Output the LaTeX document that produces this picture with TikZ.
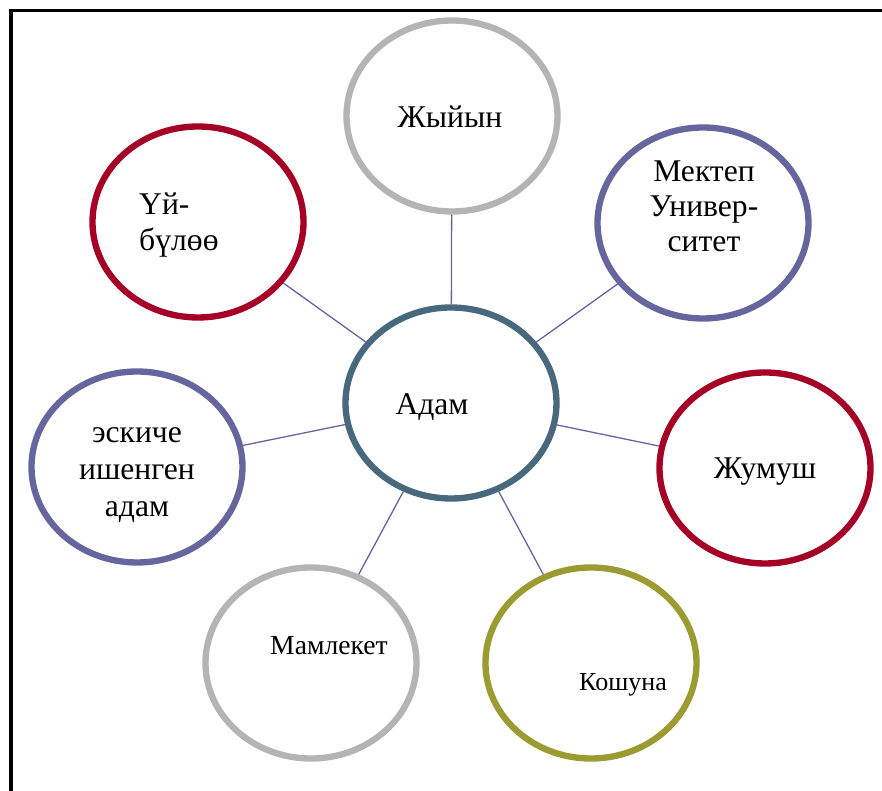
\documentclass[tikz,border=0pt]{standalone}
\usepackage{fontspec}
\setmainfont{Liberation Serif}
\usetikzlibrary{shapes.geometric, positioning}

\definecolor{bubred}{RGB}{165,0,38}
\definecolor{bubpurple}{RGB}{102,102,158}
\definecolor{bubgray}{RGB}{180,180,180}
\definecolor{bubolive}{RGB}{155,155,50}
\definecolor{bubslate}{RGB}{72,104,126}
\definecolor{linkblue}{RGB}{100,100,160}

\begin{document}
\begin{tikzpicture}[
    bubble/.style={ellipse, draw=#1, line width=5.4pt, minimum width=6.33cm, minimum height=5.73cm, inner sep=0pt},
    link/.style={draw=linkblue, line width=1.1pt},
    word/.style={font=\fontsize{27}{30}\selectfont, inner sep=0pt, align=center}
]
            \useasboundingbox (0,0) rectangle (26.46,23.73);
            % frame
            \draw[line width=2.6pt] (0.33,0) -- (0.33,23.415) -- (26.46,23.415);

            % bubbles
            \node[bubble=bubslate] (adam) at (13.53,11.64) {};
            \node[bubble=bubgray] (zhyiyn) at (13.56,20.25) {};
            \node[bubble=bubpurple] (mektep) at (21.09,17.04) {};
            \node[bubble=bubred] (uybulo) at (5.94,17.07) {};
            \node[bubble=bubpurple] (eskiche) at (4.11,9.72) {};
            \node[bubble=bubred] (zhumush) at (22.95,9.69) {};
            \node[bubble=bubgray] (mamleket) at (9.33,3.84) {};
            \node[bubble=bubolive] (koshuna) at (17.73,3.84) {};

            % labels
            \node[word] (adam-t) at (12.96,11.52) {Адам};
            \node[word] (zhyiyn-t) at (13.50,20.22) {Жыйын};
            \node[word] (mektep-t) at (21.12,17.55) {Мектеп\\Универ-\\ситет};
            \node[word, align=left, anchor=west] (uybulo-t) at (4.17,16.98) {Үй-\\бүлөө};
            \node[word, font=\fontsize{27}{31.5}\selectfont] (eskiche-t) at (4.11,9.48) {эскиче\\ишенген\\адам};
            \node[word] (zhumush-t) at (22.95,9.57) {Жумуш};
            \node[word, font=\fontsize{23.6}{28}\selectfont] (mamleket-t) at (9.87,4.35) {Мамлекет};
            \node[word, font=\fontsize{22.2}{26}\selectfont] (koshuna-t) at (18.69,3.18) {Кошуна};

            % links to the centre
            \foreach \n in {zhyiyn, mektep, uybulo, eskiche, zhumush, mamleket, koshuna}
                \draw[link] (\n) -- (adam);
\end{tikzpicture}
\end{document}
